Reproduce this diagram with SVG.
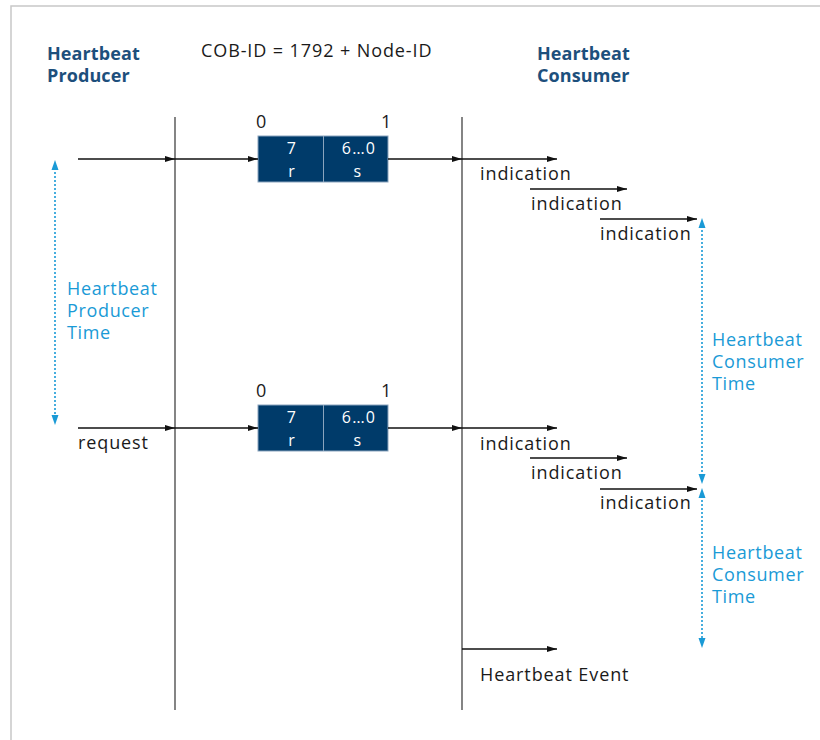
<svg xmlns="http://www.w3.org/2000/svg" width="820" height="740" viewBox="0 0 820 740">
<defs>
<marker id="ah" markerWidth="10" markerHeight="6" refX="10" refY="3" orient="auto" markerUnits="userSpaceOnUse"><path d="M0,0 L10,3 L0,6 z" fill="#111"/></marker>
<style>
text{font-family:"Open Sans","Noto Sans","Liberation Sans",sans-serif;}
.t{font-size:18px;fill:#1a1a1a;letter-spacing:0.9px;}
.h{font-size:18px;font-weight:bold;fill:#1d4f7c;letter-spacing:0.1px;}
.b{font-size:18px;fill:#1a9ad6;letter-spacing:0.65px;}
.w{font-size:16px;fill:#ffffff;text-anchor:middle;letter-spacing:1.2px;}
.ln{stroke:#111;stroke-width:1.3;fill:none;}
.ax{stroke:#666;stroke-width:1.6;fill:none;}
.dot{stroke:#1a9ad6;stroke-width:1.6;stroke-dasharray:2 2;fill:none;}
.box{fill:#003b6a;stroke:#8aa4bd;stroke-width:1;}
.bt{fill:#1a9ad6;}
</style>
</defs>
<rect x="0" y="0" width="820" height="740" fill="#fff"/>
<path d="M11,740 V6 H820" stroke="#c8c8c8" stroke-width="1.5" fill="none"/>
<g id="labels">
<text class="h" x="47" y="60">Heartbeat</text>
<text class="h" x="47" y="82">Producer</text>
<text class="t" x="201" y="57">COB-ID = 1792 + Node-ID</text>
<text class="h" x="537" y="60">Heartbeat</text>
<text class="h" x="537" y="82">Consumer</text>
</g>
<g id="axes">
<line class="ax" x1="175" y1="117" x2="175" y2="710"/>
<line class="ax" x1="462" y1="117" x2="462" y2="710"/>
</g>
<g id="frame1">
<text class="t" x="256" y="128">0</text>
<text class="t" x="381" y="128">1</text>
<rect class="box" x="258" y="136" width="130" height="46"/>
<line x1="323.5" y1="136" x2="323.5" y2="182" stroke="#8aa4bd" stroke-width="1"/>
<text class="w" x="292" y="154">7</text>
<text class="w" x="292" y="177">r</text>
<text class="w" x="359" y="154">6…0</text>
<text class="w" x="358" y="177">s</text>
</g>
<g id="frame2">
<text class="t" x="256" y="397">0</text>
<text class="t" x="381" y="397">1</text>
<rect class="box" x="258" y="405" width="130" height="46"/>
<line x1="323.5" y1="405" x2="323.5" y2="451" stroke="#8aa4bd" stroke-width="1"/>
<text class="w" x="292" y="423">7</text>
<text class="w" x="292" y="446">r</text>
<text class="w" x="359" y="423">6…0</text>
<text class="w" x="358" y="446">s</text>
</g>
<g id="connectors">
<line class="ln" x1="78" y1="159" x2="175" y2="159" marker-end="url(#ah)"/>
<line class="ln" x1="175" y1="159" x2="258" y2="159" marker-end="url(#ah)"/>
<line class="ln" x1="388" y1="159" x2="462" y2="159" marker-end="url(#ah)"/>
<line class="ln" x1="462" y1="159" x2="557" y2="159" marker-end="url(#ah)"/>
<line class="ln" x1="530" y1="189" x2="627" y2="189" marker-end="url(#ah)"/>
<line class="ln" x1="600" y1="219" x2="697" y2="219" marker-end="url(#ah)"/>
<line class="ln" x1="78" y1="428" x2="175" y2="428" marker-end="url(#ah)"/>
<line class="ln" x1="175" y1="428" x2="258" y2="428" marker-end="url(#ah)"/>
<line class="ln" x1="388" y1="428" x2="462" y2="428" marker-end="url(#ah)"/>
<line class="ln" x1="462" y1="428" x2="557" y2="428" marker-end="url(#ah)"/>
<line class="ln" x1="530" y1="458" x2="627" y2="458" marker-end="url(#ah)"/>
<line class="ln" x1="600" y1="489" x2="697" y2="489" marker-end="url(#ah)"/>
<line class="ln" x1="462" y1="649" x2="557" y2="649" marker-end="url(#ah)"/>
</g>
<g id="msgtext">
<text class="t" x="480" y="180">indication</text>
<text class="t" x="531" y="210">indication</text>
<text class="t" x="600" y="240">indication</text>
<text class="t" x="78" y="449">request</text>
<text class="t" x="480" y="450">indication</text>
<text class="t" x="531" y="479">indication</text>
<text class="t" x="600" y="509">indication</text>
<text class="t" x="480" y="681">Heartbeat Event</text>
</g>
<g id="producer-time">
<line class="dot" x1="55" y1="168" x2="55" y2="416"/>
<path class="bt" d="M55,160 L51.5,170 L58.5,170 z"/>
<path class="bt" d="M55,425 L51.5,415 L58.5,415 z"/>
<text class="b" x="67" y="295">Heartbeat</text>
<text class="b" x="67" y="317">Producer</text>
<text class="b" x="67" y="339">Time</text>
</g>
<g id="consumer-time1">
<line class="dot" x1="702" y1="226" x2="702" y2="476"/>
<path class="bt" d="M702,218 L698.5,228 L705.5,228 z"/>
<path class="bt" d="M702,484 L698.5,474 L705.5,474 z"/>
<text class="b" x="712" y="346">Heartbeat</text>
<text class="b" x="712" y="368">Consumer</text>
<text class="b" x="712" y="390">Time</text>
</g>
<g id="consumer-time2">
<line class="dot" x1="702" y1="496" x2="702" y2="640"/>
<path class="bt" d="M702,488 L698.5,498 L705.5,498 z"/>
<path class="bt" d="M702,648 L698.5,638 L705.5,638 z"/>
<text class="b" x="712" y="559">Heartbeat</text>
<text class="b" x="712" y="581">Consumer</text>
<text class="b" x="712" y="603">Time</text>
</g>
</svg>
